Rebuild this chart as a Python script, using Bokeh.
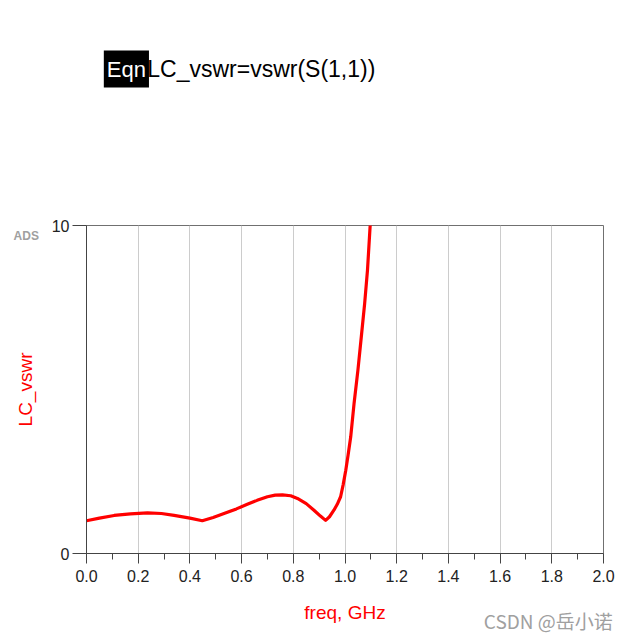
from bokeh.plotting import figure
from bokeh.models import Range1d, FixedTicker, NumeralTickFormatter, Label
from bokeh.embed import file_html
from bokeh.resources import INLINE

# ---- data ----
freq = [0.0, 0.05, 0.107, 0.17, 0.236, 0.29, 0.339, 0.40, 0.448, 0.49, 0.532,
        0.58, 0.622, 0.66, 0.70, 0.73, 0.758, 0.79, 0.816, 0.85, 0.88, 0.905, 0.925, 0.94,
        0.957, 0.97, 0.983, 0.993, 1.003, 1.012, 1.022, 1.035, 1.05, 1.063, 1.076, 1.087,
        1.097, 1.10]
vswr = [1.0, 1.08, 1.16, 1.21, 1.24, 1.22, 1.16, 1.08, 1.0, 1.1, 1.22,
        1.36, 1.50, 1.62, 1.73, 1.78, 1.79, 1.76, 1.68, 1.52, 1.32, 1.14, 1.01, 1.12,
        1.32, 1.5, 1.73, 2.1, 2.54, 3.0, 3.55, 4.57, 5.59, 6.6, 7.62, 8.64,
        9.96, 10.2]
x_ticks = [0.0, 0.2, 0.4, 0.6, 0.8, 1.0, 1.2, 1.4, 1.6, 1.8, 2.0]
x_minor = [0.1, 0.3, 0.5, 0.7, 0.9, 1.1, 1.3, 1.5, 1.7, 1.9]
y_ticks = [0, 10]

FONT = "Liberation Sans"
W, H = 629, 642

p = figure(width=W, height=H, output_backend="svg", toolbar_location=None,
           x_range=Range1d(0, 2), y_range=Range1d(0, 10),
           min_border_left=86, min_border_right=26, min_border_top=225,
           min_border_bottom=89)
p.background_fill_color = "white"
p.border_fill_color = "white"
p.outline_line_color = "#707070"
p.outline_line_width = 1

p.line(freq, vswr, line_color="#ff0000", line_width=3.2, line_join="round")

# x axis
xa = p.xaxis[0]
xa.ticker = FixedTicker(ticks=x_ticks, minor_ticks=x_minor)
xa.formatter = NumeralTickFormatter(format="0.0")
xa.axis_line_color = "#444444"
xa.major_tick_line_color = "#444444"
xa.minor_tick_line_color = "#444444"
xa.major_tick_in = 0
xa.major_tick_out = 10
xa.minor_tick_in = 0
xa.minor_tick_out = 6
xa.major_label_text_font = FONT
xa.major_label_text_font_size = "16px"
xa.major_label_text_color = "#222222"
xa.major_label_standoff = 6
xa.axis_label = "freq, GHz"
xa.axis_label_text_font = FONT
xa.axis_label_text_font_style = "normal"
xa.axis_label_text_font_size = "19px"
xa.axis_label_text_color = "#ff0000"
xa.axis_label_standoff = 17

# y axis
ya = p.yaxis[0]
ya.ticker = FixedTicker(ticks=y_ticks, minor_ticks=[])
ya.axis_line_color = "#444444"
ya.major_tick_line_color = "#444444"
ya.major_tick_in = 0
ya.major_tick_out = 14
ya.minor_tick_line_color = None
ya.major_label_text_font = FONT
ya.major_label_text_font_size = "16px"
ya.major_label_text_color = "#222222"
ya.major_label_standoff = 3
ya.axis_label = "LC_vswr"
ya.axis_label_text_font = FONT
ya.axis_label_text_font_style = "normal"
ya.axis_label_text_font_size = "19px"
ya.axis_label_text_color = "#ff0000"
ya.axis_label_standoff = 13

p.xgrid.ticker = FixedTicker(ticks=x_ticks)
p.xgrid.grid_line_color = "#cccccc"
p.ygrid.grid_line_color = None

# header / annotation texts placed in a side panel (not clipped to the frame)
p.add_layout(Label(x=0.067, y=14.77, text="Eqn", text_font=FONT,
                   text_font_size="22px", text_color="white",
                   background_fill_color="black", padding=(3, 6),
                   text_baseline="middle", text_align="left"), "above")
p.add_layout(Label(x=0.235, y=14.77, text="LC_vswr=vswr(S(1,1))", text_font=FONT,
                   text_font_size="23px", text_color="black",
                   text_baseline="middle", text_align="left"), "above")
p.add_layout(Label(x=-0.282, y=9.68, text="ADS", text_font=FONT,
                   text_font_size="12px", text_font_style="bold",
                   text_color="#a0a0a0", text_baseline="middle",
                   text_align="left"), "above")
p.add_layout(Label(x=1.537, y=-2.05, text="CSDN @岳小诺", text_font="Noto Sans CJK SC",
                   text_font_size="19px", text_color="#a0a0a0",
                   text_baseline="middle", text_align="left"), "above")

open("out.html", "w").write(file_html(p, INLINE))
